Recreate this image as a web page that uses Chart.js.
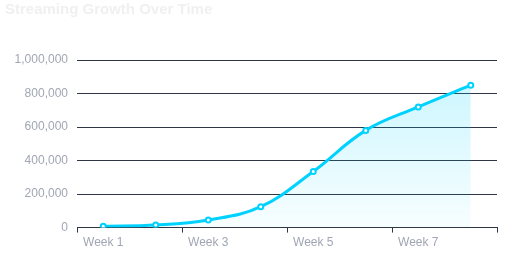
<!DOCTYPE html>
<html lang="en">
<head>
  <meta charset="UTF-8">
  <title>Streaming Growth Over Time</title>
  <script src="https://cdn.jsdelivr.net/npm/chart.js@4.4.1/dist/chart.umd.min.js"></script>
  <style>
    html, body {
      margin: 0;
      padding: 0;
      background: #ffffff;
    }

    .chart-box {
      position: relative;
      width: 517px;
      height: 256px;
    }
  </style>
</head>
<body>
  <div class="chart-box">
    <canvas id="streamChart"></canvas>
  </div>
  <script>
    // data
    const weeks = ['Week 1', 'Week 2', 'Week 3', 'Week 4', 'Week 5', 'Week 6', 'Week 7', 'Week 8'];
    const streams = [8000, 15000, 45000, 125000, 335000, 580000, 720000, 850000];
    const yMax = 1000000;
    const yStep = 200000;

    const axisColor = '#2f3646';
    const labelColor = '#a0a6b3';
    const lineColor = '#00d2ff';

    const ctx = document.getElementById('streamChart').getContext('2d');
    const streamChart = new Chart(ctx, {
      type: 'line',
      data: {
        labels: weeks,
        datasets: [{
          label: 'Streams',
          data: streams,
          borderColor: lineColor,
          borderWidth: 3,
          tension: 0.4,
          pointRadius: 2.5,
          pointBorderWidth: 2,
          pointBackgroundColor: '#ffffff',
          pointBorderColor: lineColor,
          fill: 'origin',
          backgroundColor: function(context) {
            const area = context.chart.chartArea;
            if (!area) return 'rgba(0, 210, 255, 0.15)';
            const g = context.chart.ctx.createLinearGradient(0, area.top, 0, area.bottom);
            g.addColorStop(0, 'rgba(0, 210, 255, 0.22)');
            g.addColorStop(1, 'rgba(0, 210, 255, 0.03)');
            return g;
          }
        }]
      },
      options: {
        responsive: true,
        maintainAspectRatio: false,
        animation: false,
        layout: {
          padding: { left: 5, right: 20, bottom: 3 }
        },
        plugins: {
          legend: { display: false },
          tooltip: { enabled: false },
          title: {
            display: true,
            text: 'Streaming Growth Over Time',
            align: 'start',
            color: '#f0f0f0',
            font: { family: '"Liberation Sans", Arial, sans-serif', size: 15, weight: 'bold' },
            padding: { top: 1, bottom: 41 }
          }
        },
        scales: {
          x: {
            offset: true,
            grid: {
              offset: true,
              drawOnChartArea: false,
              tickLength: 5,
              color: function(c) {
                return (c.index === undefined || c.index % 2 === 0) ? axisColor : 'rgba(0,0,0,0)';
              }
            },
            border: { display: true, color: axisColor, width: 1 },
            ticks: {
              autoSkip: false,
              maxRotation: 0,
              color: labelColor,
              font: { family: '"Liberation Sans", Arial, sans-serif', size: 12 },
              padding: 3,
              callback: function(value, index) {
                return index % 2 === 0 ? this.getLabelForValue(value) : '';
              }
            }
          },
          y: {
            min: 0,
            max: yMax,
            afterFit: function(scale) {
              scale.width = 72;
            },
            grid: {
              color: axisColor,
              drawTicks: false
            },
            border: { display: false },
            ticks: {
              stepSize: yStep,
              color: labelColor,
              padding: 9,
              font: { family: '"Liberation Sans", Arial, sans-serif', size: 12 },
              callback: function(value) {
                return value.toLocaleString('en-US');
              }
            }
          }
        }
      }
    });
  </script>
</body>
</html>
